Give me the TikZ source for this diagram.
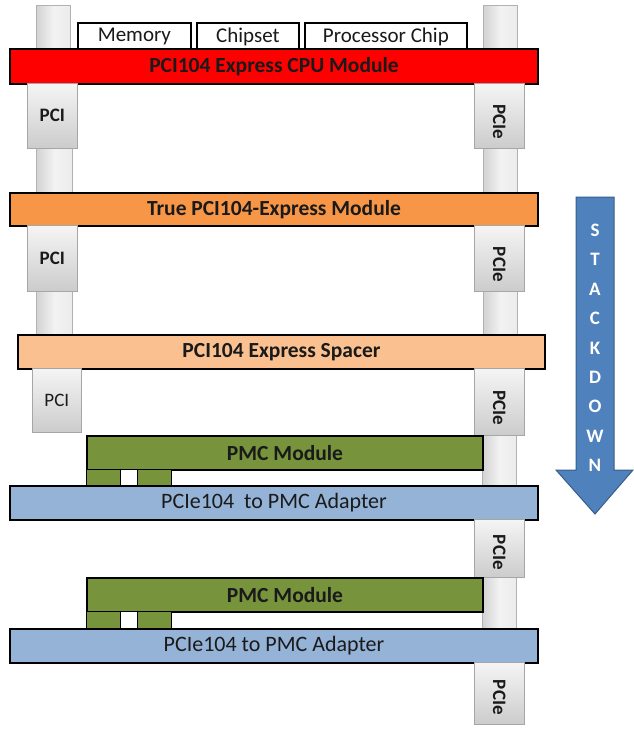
\documentclass[tikz,border=0pt]{standalone}
\usepackage{fontspec}
\setmainfont{Carlito}
\usetikzlibrary{positioning}
\definecolor{cpured}{HTML}{FF0000}
\definecolor{truorange}{HTML}{F79646}
\definecolor{spacerpeach}{HTML}{FAC090}
\definecolor{pmcgreen}{HTML}{77933C}
\definecolor{adblue}{HTML}{95B3D7}
\definecolor{arrblue}{HTML}{4F81BD}
\definecolor{arrborder}{HTML}{385D8A}
\definecolor{txt}{HTML}{1A1A1A}
\tikzset{
  bar/.style={draw=black, line width=2pt, inner sep=0pt, text=txt, font=\fontsize{21.5}{21.5}\selectfont\bfseries},
  chipbox/.style={draw=black, line width=1.8pt, fill=white, inner sep=0pt, font=\fontsize{21}{21}\selectfont, text=txt},
  conn/.style={draw=gray!70, line width=0.6pt, inner sep=0pt, top color=gray!8, bottom color=gray!40, font=\fontsize{19}{19}\selectfont\bfseries, text=txt},
  narrow/.style={draw=gray!60, line width=0.6pt, inner sep=0pt, left color=gray!35, right color=gray!15, middle color=gray!10},
  small/.style={draw=black, line width=1.4pt, inner sep=0pt},
  pcietxt/.style={rotate=-90, font=\fontsize{19}{19}\selectfont\bfseries, text=txt},
  letter/.style={text=white, font=\fontsize{19}{19}\selectfont\bfseries}
}
\begin{document}
\begin{tikzpicture}[x=1pt,y=-1pt]
\useasboundingbox (0,0) rectangle (634,729);
% top connectors
\node[narrow, minimum width=34pt, minimum height=44pt, anchor=north west] (tl) at (36,5) {};
\node[narrow, minimum width=34pt, minimum height=44pt, anchor=north west] (tr) at (483,5) {};
% chips
\node[chipbox, minimum width=113pt, minimum height=28pt, anchor=north west] (mem) at (77,22) {Memory};
\node[chipbox, minimum width=102pt, minimum height=28pt, anchor=north west] (chip) at (196,22) {Chipset};
\node[chipbox, minimum width=162pt, minimum height=28pt, anchor=north west] (proc) at (304,22) {Processor Chip};
% narrow connectors between modules
\node[narrow, minimum width=36pt, minimum height=46pt, anchor=north west] (nl1) at (36,147) {};
\node[narrow, minimum width=34pt, minimum height=46pt, anchor=north west] (nr1) at (483,147) {};
\node[narrow, minimum width=36pt, minimum height=46pt, anchor=north west] (nl2) at (36,290) {};
\node[narrow, minimum width=34pt, minimum height=46pt, anchor=north west] (nr2) at (483,290) {};
\node[narrow, minimum width=34pt, minimum height=52pt, anchor=north west] (nr3) at (482,434) {};
\node[narrow, minimum width=34pt, minimum height=53pt, anchor=north west] (nr4) at (482,576) {};
% CPU module
\node[bar, fill=cpured, minimum width=528pt, minimum height=35pt, anchor=north west] (cpu) at (9,48) {PCI104 Express CPU Module};
\node[conn, minimum width=50pt, minimum height=65pt, anchor=north west] (pci1) at (27,83) {PCI};
\node[conn, minimum width=50pt, minimum height=65pt, anchor=north west] (pcie1) at (474,83) {};
\node[pcietxt] (pcie1t) at ([yshift=-6pt]pcie1.center) {PCIe};
% True module
\node[bar, fill=truorange, minimum width=528pt, minimum height=33pt, anchor=north west] (tru) at (9,192) {True PCI104-Express Module};
\node[conn, minimum width=50pt, minimum height=66pt, anchor=north west] (pci2) at (27,225) {PCI};
\node[conn, minimum width=50pt, minimum height=66pt, anchor=north west] (pcie2) at (474,225) {};
\node[pcietxt] (pcie2t) at ([yshift=-6pt]pcie2.center) {PCIe};
% Spacer
\node[bar, fill=spacerpeach, minimum width=527pt, minimum height=34pt, anchor=north west] (spc) at (17,334) {PCI104 Express Spacer};
\node[conn, minimum width=49pt, minimum height=64pt, anchor=north west, font=\fontsize{19}{19}\selectfont] (pci3) at (32,368) {PCI};
\node[conn, minimum width=50pt, minimum height=67pt, anchor=north west] (pcie3) at (474,368) {};
\node[pcietxt] (pcie3t) at ([yshift=-6pt]pcie3.center) {PCIe};
% PMC module 1
\node[bar, fill=pmcgreen, minimum width=396pt, minimum height=34pt, anchor=north west] (pmc1) at (86,435) {PMC Module};
\node[small, fill=pmcgreen, minimum width=34pt, minimum height=16pt, anchor=north west] (g1a) at (86,469) {};
\node[small, fill=white, minimum width=17pt, minimum height=16pt, anchor=north west] (w1) at (120,469) {};
\node[small, fill=pmcgreen, minimum width=34pt, minimum height=16pt, anchor=north west] (g1b) at (137,469) {};
\node[bar, fill=adblue, minimum width=528pt, minimum height=34pt, anchor=north west, font=\fontsize{22}{22}\selectfont] (ad1) at (9,485) {PCIe104\ \ to PMC Adapter};
\node[conn, minimum width=50pt, minimum height=58pt, anchor=north west] (pcie4) at (474,519) {};
\node[pcietxt] (pcie4t) at ([yshift=-4pt]pcie4.center) {PCIe};
% PMC module 2
\node[bar, fill=pmcgreen, minimum width=396pt, minimum height=34pt, anchor=north west] (pmc2) at (86,577) {PMC Module};
\node[small, fill=pmcgreen, minimum width=34pt, minimum height=17pt, anchor=north west] (g2a) at (86,611) {};
\node[small, fill=white, minimum width=17pt, minimum height=17pt, anchor=north west] (w2) at (120,611) {};
\node[small, fill=pmcgreen, minimum width=34pt, minimum height=17pt, anchor=north west] (g2b) at (137,611) {};
\node[bar, fill=adblue, minimum width=528pt, minimum height=34pt, anchor=north west, font=\fontsize{22}{22}\selectfont] (ad2) at (9,628) {PCIe104 to PMC Adapter};
\node[conn, minimum width=50pt, minimum height=62pt, anchor=north west] (pcie5) at (474,662) {};
\node[pcietxt] (pcie5t) at ([yshift=-4pt]pcie5.center) {PCIe};
% Stack down arrow
\draw[fill=arrblue, draw=arrborder, line width=1pt]
  (576,197) -- (614,197) -- (614,470) -- (633,470) -- (595,514) -- (556,470) -- (576,470) -- cycle;
\foreach \l [count=\i] in {S,T,A,C,K,D,O,W,N}
  \node[letter] (L\i) at (595,{201+29.4*\i}) {\l};
\end{tikzpicture}
\end{document}
